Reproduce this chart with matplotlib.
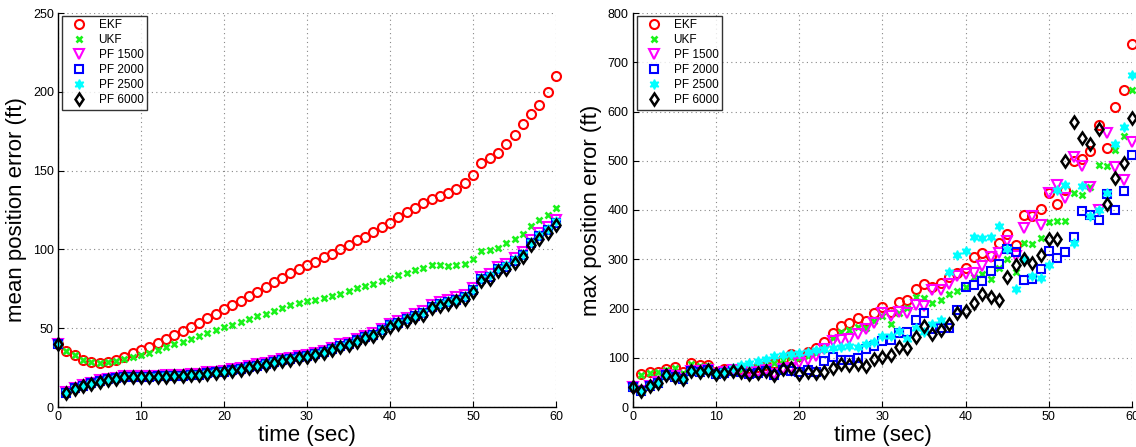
import matplotlib
matplotlib.use("Agg")
import matplotlib.pyplot as plt
import numpy as np

t = np.arange(0, 61)

# ---- mean position error (ft) ----
ekf_mean = [40, 35.4, 33, 30, 28.5, 28, 28.8, 30, 32, 34,
            36, 38, 40.5, 43, 45.7, 48, 50.7, 53.5, 56.5, 59,
            62, 65, 67.5, 70.3, 73, 76, 79, 82, 85, 87.5,
            90, 92, 95, 97.3, 100, 103, 106, 108, 111, 114,
            117, 120.5, 123.5, 126.5, 129.3, 131.7, 134, 136, 138.3, 141.9,
            147.4, 154.7, 157.9, 161, 166.6, 172.8, 179.4, 186, 191.9, 199.6, 210]
ukf_mean = [40, 35.4, 33, 30, 28.5, 28, 28.5, 29, 30.5, 31.5,
            33, 34.5, 36, 38, 40, 41.5, 43, 45, 47, 49,
            50.5, 52, 54, 56, 57.5, 59, 61, 63, 64.5, 66,
            67, 68, 69.3, 70.6, 72, 73.8, 75.5, 76.6, 78.3, 79.8,
            82, 83.6, 85, 86.8, 88.3, 89.8, 89.8, 89.3, 89.8, 90.8,
            94, 98.9, 99.6, 101, 104.2, 106.8, 109.6, 115, 118.5, 121.7, 126]
pf1500_mean = [40, 9.5, 12.2, 14, 15.5, 17, 18, 18.7, 19.7, 19.8,
               19.8, 19.8, 19.9, 20.2, 20.4, 20.5, 21, 21.1, 22, 22.5,
               23.1, 23.8, 24.8, 25.9, 27, 28.1, 29.2, 30.6, 31.1, 32.3,
               33.3, 34.4, 35.7, 37.7, 39.7, 40.9, 43.1, 45.3, 46.8, 49.6,
               52.8, 54.4, 56.7, 58.8, 60.6, 64.9, 66.7, 67.7, 69.5, 71.1,
               75.6, 82.5, 84.3, 89.1, 90.6, 94.6, 98.2, 105.8, 110.2, 114.1, 118.8]
pf2000_mean = [40, 9.1, 11.8, 13.5, 15, 16.5, 17.6, 18.2, 19.3, 19.3,
               19.3, 19.3, 19.4, 19.7, 19.8, 19.9, 20.4, 20.5, 21.4, 21.9,
               22.5, 23.2, 24.2, 25.3, 26.3, 27.5, 28.6, 30, 30.5, 31.6,
               32.6, 33.6, 35, 36.9, 38.9, 40, 42.2, 44.4, 45.9, 48.6,
               51.9, 53.4, 55.6, 57.7, 59.5, 63.7, 65.5, 66.4, 68.1, 69.7,
               74.2, 81, 82.7, 87.5, 89, 92.9, 96.5, 104, 108.4, 112.3, 117]
pf2500_mean = [40, 9.3, 12, 13.8, 15.2, 16.8, 17.9, 18.5, 19.6, 19.6,
               19.6, 19.6, 19.7, 20, 20.1, 20.2, 20.7, 20.8, 21.7, 22.2,
               22.8, 23.5, 24.6, 25.7, 26.7, 27.8, 28.9, 30.4, 30.9, 32,
               33, 34, 35.4, 37.4, 39.4, 40.5, 42.7, 44.9, 46.4, 49.2,
               52.4, 54, 56.2, 58.3, 60, 64.3, 66.1, 67, 68.8, 70.4,
               74.9, 81.8, 83.5, 88.3, 89.8, 93.8, 97.3, 104.9, 109.3, 113.2, 117.9]
pf6000_mean = [40, 8.7, 11.4, 13.1, 14.6, 16.1, 17.2, 17.8, 18.9, 18.9,
               18.9, 18.9, 18.9, 19.3, 19.4, 19.5, 20, 20, 21, 21.4,
               22, 22.7, 23.7, 24.8, 25.8, 26.9, 28, 29.4, 29.9, 31,
               32, 33, 34.3, 36.2, 38.2, 39.3, 41.5, 43.6, 45.1, 47.8,
               51, 52.5, 54.7, 56.8, 58.5, 62.7, 64.4, 65.3, 67, 68.5,
               73, 79.8, 81.5, 86.2, 87.6, 91.5, 95, 102.5, 106.8, 110.6, 115.3]

# ---- max position error (ft) ----
ekf_max = [40, 66, 71, 72, 77, 81, 71, 89, 86, 85,
           72, 78, 75, 77, 80, 82, 86, 90, 97, 108,
           104, 112, 119, 131, 150, 164, 171, 180, 174, 190,
           203, 193, 213, 218, 239, 249, 244, 252, 264, 273,
           283, 304, 312, 306, 333, 352, 329, 389, 388, 402,
           435, 412, 441, 500, 503, 520, 573, 525, 609, 644, 738]
ukf_max = [40, 65, 70, 71, 75, 80, 70, 87, 84, 83,
           70, 74, 74, 76, 79, 81, 84, 89, 96, 102,
           100, 104, 110, 118, 140, 152, 156, 163, 161, 175,
           184, 169, 190, 202, 223, 221, 211, 218, 229, 235,
           244, 263, 271, 259, 282, 301, 275, 333, 331, 344,
           376, 378, 378, 434, 430, 447, 491, 490, 521, 550, 644]
pf1500_max = [40, 33, 43, 50, 65, 62, 57, 74, 73, 76,
              67, 71, 75, 72, 71, 71, 75, 66, 78, 80,
              89, 95, 104, 118, 134, 136, 138, 149, 159, 170,
              190, 185, 193, 191, 208, 206, 237, 238, 250, 266,
              271, 272, 286, 304, 312, 337, 307, 363, 387, 370,
              435, 451, 424, 507, 489, 446, 400, 556, 487, 461, 539]
pf2000_max = [40, 32, 42, 49, 64, 61, 56, 73, 72, 75,
              66, 70, 74, 71, 66, 69, 74, 65, 76, 74,
              71, 75, 71, 93, 101, 95, 96, 100, 117, 123,
              134, 137, 151, 152, 176, 190, 159, 161, 161, 196,
              244, 247, 255, 276, 291, 321, 315, 258, 260, 281,
              316, 302, 315, 346, 397, 390, 380, 433, 400, 439, 512]
pf2500_max = [40, 32, 42, 49, 64, 61, 56, 73, 72, 75,
              67, 73, 80, 86, 89, 93, 97, 104, 105, 108,
              110, 112, 115, 117, 120, 122, 124, 122, 128, 131,
              144, 145, 154, 139, 161, 152, 169, 177, 274, 309,
              316, 345, 344, 346, 368, 320, 239, 300, 265, 262,
              289, 441, 451, 332, 449, 388, 401, 434, 534, 568, 674]
pf6000_max = [40, 32, 42, 49, 64, 61, 56, 73, 72, 75,
              66, 70, 74, 71, 66, 69, 74, 64, 77, 79,
              68, 72, 70, 72, 79, 87, 86, 87, 84, 97,
              101, 105, 122, 120, 142, 164, 149, 156, 169, 190,
              194, 211, 230, 223, 217, 263, 289, 300, 293, 308,
              342, 342, 500, 579, 546, 534, 564, 412, 464, 496, 586]

labels = ["EKF", "UKF", "PF 1500", "PF 2000", "PF 2500", "PF 6000"]

styles = [
    dict(marker='o', mec=(1, 0, 0), mfc='none', ms=6.5, mew=1.5),
    dict(marker='x', mec=(0.1, 0.95, 0.1), mfc='none', ms=4.3, mew=1.9),
    dict(marker='v', mec=(1, 0, 1), mfc='none', ms=7, mew=1.5),
    dict(marker='s', mec=(0, 0, 1), mfc='none', ms=5.5, mew=1.5),
    dict(marker=(6, 1, 0), mec=(0, 1, 1), mfc=(0, 1, 1), ms=7, mew=1.0),
    dict(marker='d', mec=(0, 0, 0), mfc='none', ms=6.5, mew=1.8),
]

plt.rcParams['font.family'] = ['Liberation Sans', 'DejaVu Sans']

fig = plt.figure(figsize=(11.36, 4.47), dpi=100)
ax1 = fig.add_axes([58 / 1136, 40 / 447, 498 / 1136, 394 / 447])
ax2 = fig.add_axes([633 / 1136, 40 / 447, 499 / 1136, 394 / 447])

mean_series = [ekf_mean, ukf_mean, pf1500_mean, pf2000_mean, pf2500_mean, pf6000_mean]
max_series = [ekf_max, ukf_max, pf1500_max, pf2000_max, pf2500_max, pf6000_max]

for ax, series, ylim, yt, ylab in [
        (ax1, mean_series, 250, np.arange(0, 251, 50), "mean position error (ft)"),
        (ax2, max_series, 800, np.arange(0, 801, 100), "max position error (ft)")]:
    for vals, lab, st in zip(series, labels, styles):
        ax.plot(t, vals, linestyle='none', label=lab, clip_on=False, **st)
    ax.set_xlim(0, 60)
    ax.set_ylim(0, ylim)
    ax.set_xticks(np.arange(0, 61, 10))
    ax.set_yticks(yt)
    ax.grid(True, linestyle=(0, (1, 3)), color='#888888', linewidth=0.8)
    ax.set_axisbelow(True)
    for s in ['top', 'right']:
        ax.spines[s].set_visible(False)
    for s in ['left', 'bottom']:
        ax.spines[s].set_linewidth(1.0)
    ax.tick_params(direction='in', length=4, labelsize=9, pad=3)
    ax.set_xlabel("time (sec)", fontsize=16, labelpad=1)
    ax.set_ylabel(ylab, fontsize=16, labelpad=4)
    leg = ax.legend(loc='upper left', bbox_to_anchor=(0.008, 0.993), fontsize=8.5,
                    frameon=True, fancybox=False, edgecolor='black',
                    borderpad=0.3, labelspacing=0.25, handletextpad=0.6,
                    handlelength=2.2, borderaxespad=0.0)
    leg.get_frame().set_linewidth(1.0)

fig.savefig("out.png", dpi=100)
